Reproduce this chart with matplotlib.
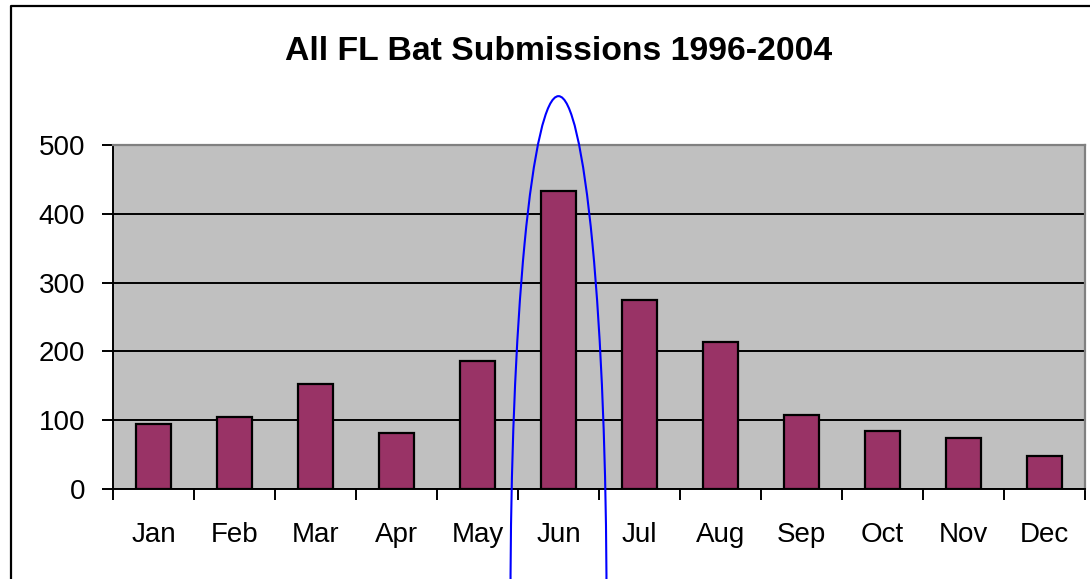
import matplotlib
matplotlib.use("Agg")
import matplotlib.pyplot as plt
from matplotlib.patches import Ellipse
from matplotlib.lines import Line2D
import numpy as np

months = ["Jan", "Feb", "Mar", "Apr", "May", "Jun", "Jul", "Aug", "Sep", "Oct", "Nov", "Dec"]
submissions = [95, 105, 152, 81, 186, 433, 274, 213, 108, 84, 74, 48]
yticks = [0, 100, 200, 300, 400, 500]
title = "All FL Bat Submissions 1996-2004"

plt.rcParams['font.family'] = ['Liberation Sans', 'DejaVu Sans']

W, H = 1090, 579
fig = plt.figure(figsize=(W / 100, H / 100), dpi=100)
fig.patch.set_facecolor("white")

left, right, top, bottom = 113, 1085, 145, 489
ax = fig.add_axes([left / W, 1 - bottom / H, (right - left) / W, (bottom - top) / H])
ax.set_facecolor("#C0C0C0")

x = np.arange(len(months))
ax.bar(x, submissions, width=0.42, color="#993366", edgecolor="black", linewidth=1.6, zorder=3)

ax.set_xlim(-0.5, len(months) - 0.5)
ax.set_ylim(0, 500)
ax.set_yticks(yticks)
ax.set_yticklabels([str(v) for v in yticks], fontsize=20)
ax.yaxis.grid(True, color="black", linewidth=1.4, zorder=1)
ax.set_axisbelow(True)

ax.set_xticks(x)
ax.set_xticklabels(months, fontsize=20)
ax.set_xticks(np.arange(-0.5, len(months)), minor=True)
ax.tick_params(axis="x", which="major", length=0, pad=24)
ax.tick_params(axis="x", which="minor", length=8, width=1.4, direction="out", color="black")
ax.tick_params(axis="y", length=8, width=1.4, direction="out", pad=12)

for s in ["left", "bottom"]:
    ax.spines[s].set_color("black")
    ax.spines[s].set_linewidth(1.4)
for s in ["top", "right"]:
    ax.spines[s].set_color("#808080")
    ax.spines[s].set_linewidth(1.6)

fig.text(559 / W, 1 - 52 / H, title, ha="center", va="center", fontsize=24.3, fontweight="bold")

# blue highlight ellipse around June
ell = Ellipse((5, -161), width=1.185, height=1464, fill=False, edgecolor="#0000FF",
              linewidth=1.5, transform=ax.transData, clip_on=False, zorder=5)
ax.add_patch(ell)

# outer border (left and top visible)
fig.add_artist(Line2D([11 / W, 11 / W, 1.0], [0.0, 1 - 6 / H, 1 - 6 / H],
                      transform=fig.transFigure, color="black", linewidth=1.6))

fig.savefig("out.png", dpi=100)
